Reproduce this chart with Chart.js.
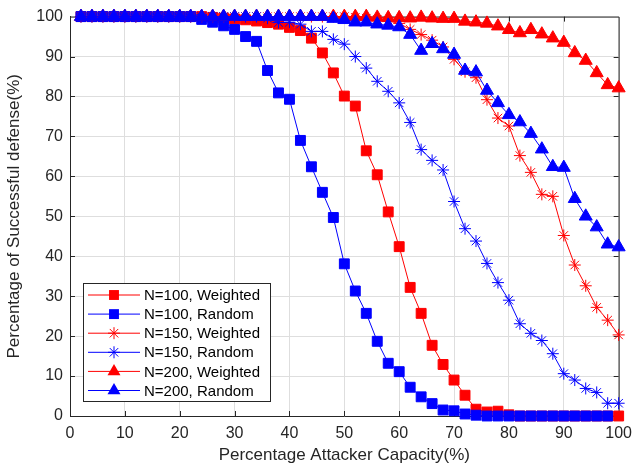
<!DOCTYPE html>
<html>
<head>
<meta charset="utf-8">
<script src="https://cdn.jsdelivr.net/npm/chart.js@4.4.1/dist/chart.umd.min.js"></script>
<style>
  html, body { margin: 0; padding: 0; background: #fff; }
  #wrap { width: 640px; height: 468px; }
</style>
</head>
<body>
<div id="wrap"><canvas id="defenseChart" width="640" height="468"></canvas></div>
<script>
// attacker capacity (%) - x axis
const capacity = [2, 4, 6, 8, 10, 12, 14, 16, 18, 20, 22, 24, 26, 28, 30, 32, 34, 36, 38, 40,
  42, 44, 46, 48, 50, 52, 54, 56, 58, 60, 62, 64, 66, 68, 70, 72, 74, 76, 78, 80,
  82, 84, 86, 88, 90, 92, 94, 96, 98, 100];

// successful defense (%) for each run
const n100Weighted = [100, 100, 100, 100, 100, 100, 100, 100, 100, 100, 100, 100,
  99.8, 99.6, 99.4, 99.2, 98.9, 98.5, 98.1, 97.3, 96.5, 94.6, 90.9, 85.9, 80.1, 77.6,
  66.4, 60.4, 51.1, 42.4, 32.2, 25.7, 17.7, 12.9, 9.0, 5.2, 1.7, 1.0, 1.2, 0.3,
  0, 0, 0, 0, 0, 0, 0, 0, 0, 0];
const n100Random = [100, 100, 100, 100, 100, 100, 100, 100, 100, 100, 100,
  99.3, 98.6, 97.7, 96.8, 95.0, 93.8, 86.5, 80.9, 79.3, 69.0, 62.4, 56.0, 49.7, 38.1,
  31.3, 25.7, 18.7, 13.2, 11.1, 7.2, 4.8, 3.1, 1.5, 1.3, 0.5, 0.2,
  0, 0, 0, 0, 0, 0, 0, 0, 0, 0, 0, 0];
const n150Weighted = [100, 100, 100, 100, 100, 100, 100, 100, 100, 100, 100, 100, 100,
  100, 100, 100, 100, 100, 100, 100, 100, 100, 100, 100, 100,
  99.8, 99.6, 99.3, 98.9, 98.3, 96.8, 95.5, 94.1, 92.4, 89.3, 86.2, 84.7, 79.2, 74.6,
  72.6, 65.2, 61.0, 55.5, 55.0, 45.2, 37.8, 32.6, 27.2, 24.0, 20.3];
const n150Random = [100, 100, 100, 100, 100, 100, 100, 100, 100, 100, 100, 100, 100,
  100, 100, 100, 100,
  99.6, 98.5, 98.6, 98.1, 96.3, 96.3, 94.3, 93.1, 90.0, 87.1, 83.8, 81.3, 78.4, 73.5,
  66.7, 64.0, 61.6, 53.7, 46.9, 43.8, 38.2, 33.4, 29.0, 23.1, 20.7, 18.9, 15.6, 10.6,
  9.0, 6.9, 5.9, 3.2, 3.2];
const n200Weighted = [100, 100, 100, 100, 100, 100, 100, 100, 100, 100, 100, 100, 100,
  100, 100, 100, 100, 100, 100, 100, 100, 100, 100, 100, 100, 100, 100,
  99.8, 99.7, 99.7, 99.6, 99.8, 99.6, 99.5, 99.5, 98.8, 98.6, 98.3, 97.6, 96.7, 95.9,
  96.7, 95.6, 94.6, 93.5, 90.9, 89.0, 85.9, 82.9, 82.1];
const n200Random = [100, 100, 100, 100, 100, 100, 100, 100, 100, 100, 100, 100, 100,
  100, 100, 100, 100, 100, 100, 100, 100, 100, 100,
  99.5, 99.2, 98.6, 98.6, 98.1, 97.8, 97.4, 95.5, 91.5, 93.2, 91.9, 90.5, 86.5, 86.1,
  81.5, 78.4, 75.4, 73.6, 70.7, 66.8, 62.4, 62.2, 54.4, 50.0, 47.3, 43.0, 42.3];

const seriesNames = ["N=100, Weighted", "N=100, Random", "N=150, Weighted",
  "N=150, Random", "N=200, Weighted", "N=200, Random"];
const seriesValues = [n100Weighted, n100Random, n150Weighted, n150Random, n200Weighted, n200Random];
const xTicks = [0, 10, 20, 30, 40, 50, 60, 70, 80, 90, 100];
const yTicks = [0, 10, 20, 30, 40, 50, 60, 70, 80, 90, 100];

const RED = "#ff0000";
const BLUE = "#0000ff";
const AXIS = "#262626";
const FONT = "'Liberation Sans', Arial, sans-serif";

const styles = [
  { color: RED, marker: "rect", radius: 7 },
  { color: BLUE, marker: "rect", radius: 7 },
  { color: RED, marker: "star", radius: 6 },
  { color: BLUE, marker: "star", radius: 6 },
  { color: RED, marker: "triangle", radius: 7.5 },
  { color: BLUE, marker: "triangle", radius: 7.5 },
];

const datasets = seriesValues.map((vals, i) => ({
  label: seriesNames[i],
  data: vals.map((v, k) => ({ x: capacity[k], y: v })),
  borderColor: styles[i].color,
  backgroundColor: styles[i].color,
  pointBackgroundColor: styles[i].color,
  pointBorderColor: styles[i].color,
  pointStyle: styles[i].marker,
  pointRadius: styles[i].radius,
  pointBorderWidth: 1,
  borderWidth: 1,
  tension: 0,
  clip: false,
  order: seriesValues.length - i, // later series on top, like the original
}));

// small marker painter for the legend
function drawMarker(ctx, style, x, y, r) {
  ctx.save();
  ctx.fillStyle = style.color;
  ctx.strokeStyle = style.color;
  ctx.lineWidth = 1;
  ctx.beginPath();
  if (style.marker === "rect") {
    const s = r * Math.SQRT1_2;
    ctx.rect(x - s, y - s, 2 * s, 2 * s);
    ctx.fill();
  } else if (style.marker === "triangle") {
    for (let k = 0; k < 3; k++) {
      const a = k * 2 * Math.PI / 3;
      const px = x + Math.sin(a) * r, py = y - Math.cos(a) * r;
      if (k === 0) ctx.moveTo(px, py); else ctx.lineTo(px, py);
    }
    ctx.closePath();
    ctx.fill();
  } else {
    for (let k = 0; k < 4; k++) {
      const a = k * Math.PI / 4;
      ctx.moveTo(x + Math.cos(a) * r, y + Math.sin(a) * r);
      ctx.lineTo(x - Math.cos(a) * r, y - Math.sin(a) * r);
    }
    ctx.stroke();
  }
  ctx.restore();
}

// box around the axes plus inward tick marks (matlab look)
const axesBox = {
  id: "axesBox",
  beforeDatasetsDraw(chart) {
    const { ctx, chartArea: a, scales } = chart;
    ctx.save();
    ctx.strokeStyle = AXIS;
    ctx.lineWidth = 1;
    ctx.beginPath();
    ctx.moveTo(a.left, a.top + 0.5);
    ctx.lineTo(a.right + 0.5, a.top + 0.5);
    ctx.lineTo(a.right + 0.5, a.bottom);
    const tl = 5;
    xTicks.slice(1, -1).forEach(v => {
      const px = Math.round(scales.x.getPixelForValue(v)) + 0.5;
      ctx.moveTo(px, a.bottom); ctx.lineTo(px, a.bottom - tl);
      ctx.moveTo(px, a.top); ctx.lineTo(px, a.top + tl);
    });
    yTicks.slice(1, -1).forEach(v => {
      const py = Math.round(scales.y.getPixelForValue(v)) + 0.5;
      ctx.moveTo(a.left, py); ctx.lineTo(a.left + tl, py);
      ctx.moveTo(a.right, py); ctx.lineTo(a.right - tl, py);
    });
    ctx.stroke();
    ctx.restore();
  },
  afterDraw(chart) {
    // legend box in lower left of the plot
    const ctx = chart.ctx;
    const lx = 83.5, ly = 283.5, lw = 187, lh = 118;
    ctx.save();
    ctx.fillStyle = "#fff";
    ctx.fillRect(lx, ly, lw, lh);
    ctx.strokeStyle = AXIS;
    ctx.lineWidth = 1;
    ctx.strokeRect(lx, ly, lw, lh);
    ctx.font = "15px " + FONT;
    ctx.textBaseline = "middle";
    seriesNames.forEach((name, i) => {
      const y = 295 + i * 19.1;
      ctx.strokeStyle = styles[i].color;
      ctx.beginPath();
      ctx.moveTo(88, y);
      ctx.lineTo(140, y);
      ctx.stroke();
      drawMarker(ctx, styles[i], 114, y, styles[i].radius);
      ctx.fillStyle = "#000";
      ctx.fillText(name, 144, y + 1);
    });
    ctx.restore();
  }
};

const chartCtx = document.getElementById("defenseChart").getContext("2d");
new Chart(chartCtx, {
  type: "line",
  data: { datasets },
  options: {
    responsive: false,
    animation: false,
    layout: { padding: { top: 14, right: 13, left: 0, bottom: 0 } },
    plugins: {
      legend: { display: false },
      tooltip: { enabled: false },
    },
    scales: {
      x: {
        type: "linear",
        min: 0,
        max: 100,
        afterFit(scale) { scale.height = 52; },
        afterBuildTicks(scale) { scale.ticks = xTicks.map(v => ({ value: v })); },
        grid: { color: "#dedede", drawTicks: false },
        border: { display: true, color: AXIS, width: 1 },
        ticks: { color: AXIS, padding: 8, maxRotation: 0, font: { size: 16, family: FONT } },
        title: {
          display: true,
          text: "Percentage Attacker Capacity(%)",
          color: AXIS,
          padding: { top: 0, bottom: 2 },
          font: { size: 17, family: FONT },
        },
      },
      y: {
        type: "linear",
        min: 0,
        max: 100,
        afterFit(scale) { scale.width = 70; },
        afterBuildTicks(scale) { scale.ticks = yTicks.map(v => ({ value: v })); },
        grid: { color: "#dedede", drawTicks: false },
        border: { display: true, color: AXIS, width: 1 },
        ticks: { color: AXIS, padding: 7, font: { size: 16, family: FONT } },
        title: {
          display: true,
          text: "Percentage of Successful defense(%)",
          color: AXIS,
          padding: { top: 4, bottom: 0 },
          font: { size: 17, family: FONT },
        },
      },
    },
  },
  plugins: [axesBox],
});
</script>
</body>
</html>
